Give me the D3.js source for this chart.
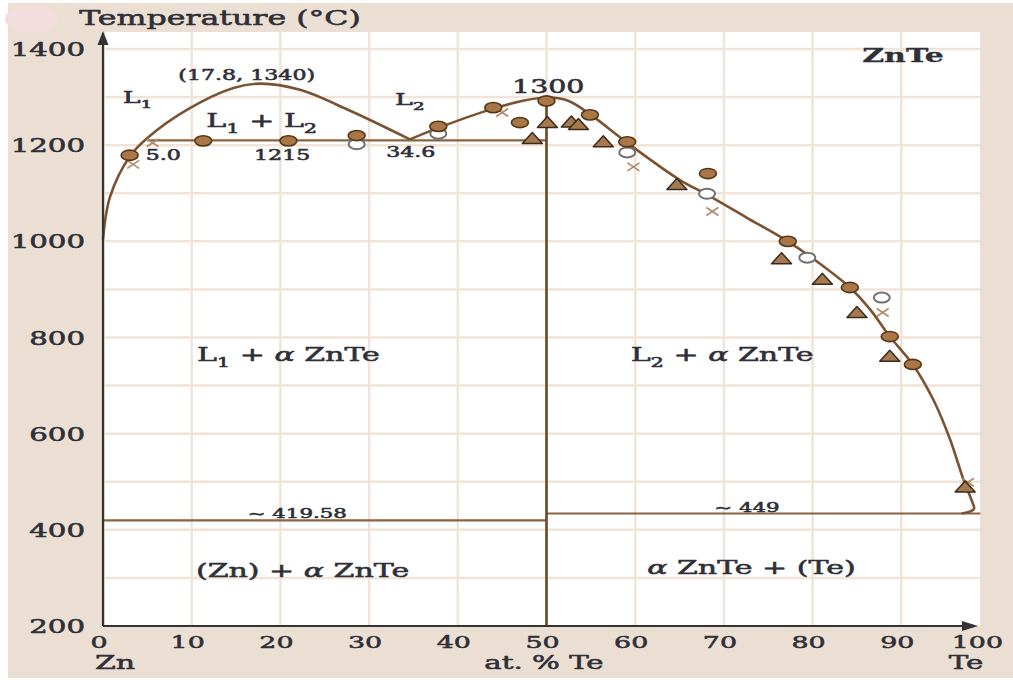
<!DOCTYPE html>
<html><head><meta charset="utf-8">
<script src="https://cdn.jsdelivr.net/npm/d3@7"></script>
<style>html,body{margin:0;padding:0;background:#fff;} svg{display:block;}</style>
</head><body><svg id="c" width="1013" height="680"></svg>
<script>
// ---------- data ----------
const xTicks = [0,10,20,30,40,50,60,70,80,90,100];
const yTicks = [200,400,600,800,1000,1200,1400];
const xGrid = [10,20,30,40,50,60,70,80,90];
const yGrid = [300,400,500,600,700,800,900,1000,1100,1200,1300,1400];

// liquidus: L1 dome (Zn side) up to monotectic point 34.6
const liquidusDome = [[0,1005],[0.8,1093],[3.0,1176],[5.0,1215],[9.5,1274],[14.7,1319],[17.8,1328],[22.2,1315],[27.8,1272],[34.6,1212]];
// liquidus: L2 branch to ZnTe maximum and down to Te side
const liquidusRight = [[34.6,1212],[37.8,1236],[44,1276],[47.5,1293],[50.3,1299],[52.5,1292],[55,1263],[59.1,1205],[65,1128],[68.1,1097],[72.5,1050],[77.2,1000],[80.5,958],[84.2,904],[86.5,858],[88.7,802],[91.3,744],[93.6,671],[95.5,588],[97.0,505],[98.0,458],[98.2,444],[97.6,437],[96.8,434]];

// invariant lines [x1, x2, T]
const monotectic = [5.0, 50, 1210];
const eutecticZn = [0, 50, 419.58];
const eutecticTe = [50, 98.9, 434];
const compoundLine = [50, 1300, 200]; // x, Ttop, Tbottom

// experimental points
const filledPts = [[3.0,1179],[11.3,1209],[20.9,1209],[28.6,1220],[37.8,1239],[44.0,1278],[47.0,1247],[50.0,1292],[54.9,1263],[59.1,1207],[68.2,1141],[77.2,1000],[84.2,904],[88.7,802],[91.3,744]];
const openPts = [[28.6,1202],[37.8,1224],[59.1,1185],[68.1,1099],[79.4,966],[87.8,883]];
const trianglePts = [[48.4,1214],[50.1,1247],[52.8,1248],[53.6,1243],[56.4,1207],[64.7,1118],[76.5,964],[81.1,921],[85.0,852],[88.7,761],[97.2,489]];
const crossPts = [[3.4,1160],[5.6,1205],[45.0,1268],[59.8,1155],[68.7,1062],[87.9,852],[97.5,499]];

// annotations: [parts, x(at.%), T(baseline), size, weight]
const annotations = [
  [["(17.8, 1340)"], 16.2, 1335, 14, "normal"],
  [["L", {sub:"1"}], 3.9, 1288, 17, "normal"],
  [["L", {sub:"1"}, " + L", {sub:"2"}], 17.9, 1238, 19, "normal"],
  [["L", {sub:"2"}], 34.6, 1284, 17, "normal"],
  [["1300"], 50.2, 1308, 18, "normal"],
  [["5.0"], 6.8, 1169, 14, "normal"],
  [["1215"], 20.2, 1169, 14, "normal"],
  [["34.6"], 34.7, 1175, 14, "normal"],
  [["L", {sub:"1"}, " + ", {it:"α"}, " ZnTe"], 20.9, 751, 19, "normal"],
  [["L", {sub:"2"}, " + ", {it:"α"}, " ZnTe"], 69.8, 751, 19, "normal"],
  [["~ 419.58"], 21.9, 425, 13.5, "normal"],
  [["~ 449"], 72.6, 437, 13.5, "normal"],
  [["(Zn) + ", {it:"α"}, " ZnTe"], 22.5, 302, 19, "normal"],
  [[{it:"α"}, " ZnTe + (Te)"], 73.1, 308, 19, "normal"],
  [["ZnTe"], 90.2, 1373, 19, "bold"]
];

// ---------- drawing ----------
const SX = 1.58;
const TXT = "#2f2f38";
const BROWN = "#7a5432";
const svg = d3.select("#c");
const x = d3.scaleLinear().domain([0,100]).range([103,990]);
const y = d3.scaleLinear().domain([200,1400]).range([626,49]);
const plotL = 105, plotR = 980, plotT = 32, plotB = y(200);

svg.append("rect").attr("x",0).attr("y",0).attr("width",1013).attr("height",680).attr("fill","#fff");
svg.append("rect").attr("x",8).attr("y",3).attr("width",1005).attr("height",675).attr("fill","#ebdfd3");
svg.append("ellipse").attr("cx",32).attr("cy",19).attr("rx",27).attr("ry",14).attr("fill","#f2dcdc");
svg.append("rect").attr("x",plotL).attr("y",plotT).attr("width",plotR-plotL).attr("height",plotB-plotT).attr("fill","#fff");

const grid = svg.append("g").attr("stroke","#f1e3d6").attr("stroke-width",2.5);
grid.selectAll("line.v").data(xGrid).join("line").attr("class","v")
  .attr("x1",d=>x(d)).attr("x2",d=>x(d)).attr("y1",plotT).attr("y2",plotB);
grid.selectAll("line.h").data(yGrid).join("line").attr("class","h")
  .attr("x1",plotL).attr("x2",plotR).attr("y1",d=>y(d)).attr("y2",d=>y(d));

function label(parent, parts, px, py, size, anchor, weight) {
  const t = parent.append("text")
    .attr("transform", `translate(${px},${py}) scale(${SX},1)`)
    .attr("text-anchor", anchor || "middle")
    .attr("font-family", "'DejaVu Serif', serif")
    .attr("font-size", size)
    .attr("font-weight", weight || "normal")
    .attr("fill", TXT)
    .attr("stroke", TXT).attr("stroke-width", weight === "bold" ? 0.3 : 0.55)
    .attr("stroke-linejoin", "round");
  let shift = 0;
  parts.forEach(p => {
    const s = t.append("tspan");
    if (typeof p === "string") {
      s.text(p);
      if (shift) { s.attr("dy", -shift); shift = 0; }
    } else if (p.sub) {
      const d = size * 0.3;
      s.text(p.sub).attr("font-size", size * 0.7).attr("dy", d - shift);
      shift = d;
    } else if (p.it) {
      s.text(p.it).attr("font-style", "italic");
      if (shift) { s.attr("dy", -shift); shift = 0; }
    }
  });
  return t;
}

// invariant lines
const lines = svg.append("g").attr("stroke", BROWN).attr("fill","none");
[monotectic, eutecticZn, eutecticTe].forEach(l => {
  lines.append("line").attr("x1", x(l[0])).attr("x2", x(l[1]))
    .attr("y1", y(l[2])).attr("y2", y(l[2])).attr("stroke-width", 2.2).attr("stroke","#8a6440");
});
lines.append("line").attr("x1", x(compoundLine[0])).attr("x2", x(compoundLine[0]))
  .attr("y1", y(compoundLine[1])).attr("y2", y(compoundLine[2])).attr("stroke-width", 2.6).attr("stroke","#6b4829");

// liquidus curves
const lineGen = d3.line().x(d=>x(d[0])).y(d=>y(d[1])).curve(d3.curveCatmullRom.alpha(0.5));
svg.append("path").datum(liquidusDome).attr("d", lineGen).attr("fill","none").attr("stroke",BROWN).attr("stroke-width",2.6);
svg.append("path").datum(liquidusRight).attr("d", lineGen).attr("fill","none").attr("stroke",BROWN).attr("stroke-width",2.6);

// markers
const mk = svg.append("g");
mk.selectAll("line.c1").data(crossPts).join("line").attr("class","c1")
  .attr("x1",d=>x(d[0])-6).attr("x2",d=>x(d[0])+6).attr("y1",d=>y(d[1])-4).attr("y2",d=>y(d[1])+4)
  .attr("stroke","#b08a6a").attr("stroke-width",1.6);
mk.selectAll("line.c2").data(crossPts).join("line").attr("class","c2")
  .attr("x1",d=>x(d[0])-6).attr("x2",d=>x(d[0])+6).attr("y1",d=>y(d[1])+4).attr("y2",d=>y(d[1])-4)
  .attr("stroke","#b08a6a").attr("stroke-width",1.6);
mk.selectAll("ellipse.o").data(openPts).join("ellipse").attr("class","o")
  .attr("cx",d=>x(d[0])).attr("cy",d=>y(d[1])).attr("rx",8).attr("ry",5)
  .attr("fill","#fff").attr("stroke","#707070").attr("stroke-width",2);
mk.selectAll("path.t").data(trianglePts).join("path").attr("class","t")
  .attr("d",d=>`M${x(d[0])-10},${y(d[1])+5}L${x(d[0])+10},${y(d[1])+5}L${x(d[0])},${y(d[1])-6}Z`)
  .attr("fill","#a57a50").attr("stroke","#3d2b1a").attr("stroke-width",1.5).attr("stroke-linejoin","round");
mk.selectAll("ellipse.f").data(filledPts).join("ellipse").attr("class","f")
  .attr("cx",d=>x(d[0])).attr("cy",d=>y(d[1])).attr("rx",8.5).attr("ry",5.1)
  .attr("fill","#a87647").attr("stroke","#573717").attr("stroke-width",1.6);

// axes
const ax = svg.append("g").attr("stroke","#333").attr("fill","#333");
ax.append("line").attr("x1",103).attr("x2",103).attr("y1",plotB).attr("y2",42).attr("stroke-width",2.2);
ax.append("path").attr("d","M103,31L97.5,45L108.5,45Z").attr("stroke","none");
ax.append("line").attr("x1",103).attr("x2",966).attr("y1",plotB).attr("y2",plotB).attr("stroke-width",2.2);
ax.append("path").attr("d",`M978,${plotB}L962,${plotB-5}L962,${plotB+5}Z`).attr("stroke","none");

// tick labels
const tl = svg.append("g");
yTicks.forEach(v => label(tl, [String(v)], 85, y(v)+7, 18.5, "end"));
xTicks.forEach(v => {
  const w = String(v).length * 0.636 * 17 * SX;
  const cx = Math.min(x(v) - 4, 1003 - w/2);
  label(tl, [String(v)], cx, 648, 17, "middle");
});
label(tl, ["Zn"], 115, 669, 19, "middle");
label(tl, ["at. % Te"], 544, 669, 18.5, "middle");
label(tl, ["Te"], 966, 669, 18.5, "middle");
label(tl, ["Temperature (°C)"], 220, 25, 20, "middle");

// annotations
const an = svg.append("g");
annotations.forEach(a => label(an, a[0], x(a[1]), y(a[2]), a[3], "middle", a[4]));
</script>
</body></html>
